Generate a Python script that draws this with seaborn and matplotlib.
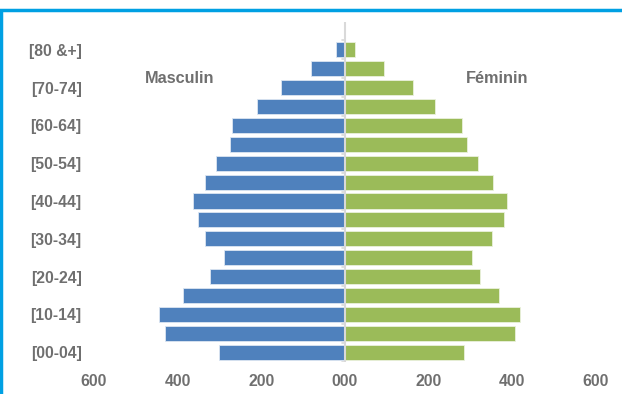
import pandas as pd
import matplotlib.pyplot as plt
import seaborn as sns
from matplotlib.patches import Rectangle

# Age groups, from oldest (top) to youngest (bottom)
ages = ['[80 &+]', '[75-79]', '[70-74]', '[65-69]', '[60-64]', '[55-59]',
        '[50-54]', '[45-49]', '[40-44]', '[35-39]', '[30-34]', '[25-29]',
        '[20-24]', '[15-19]', '[10-14]', '[05-09]', '[00-04]']
masculin = [21, 81, 153, 210, 270, 274, 309, 335, 364, 352, 335, 290,
            323, 387, 445, 431, 302]
feminin = [24, 93, 163, 215, 280, 291, 317, 353, 388, 381, 352, 303,
           322, 369, 419, 407, 285]
xticks = [-600, -400, -200, 0, 200, 400, 600]

df = pd.DataFrame({'age': ages, 'Masculin': [-v for v in masculin], 'Féminin': feminin})

sns.set_style('white')
plt.rcParams['font.family'] = ['Liberation Sans', 'DejaVu Sans']
grey = '#6f6f6f'

fig = plt.figure(figsize=(6.22, 3.94), dpi=100)
ax = fig.add_axes([94 / 622, 32.5 / 394, 502 / 622, 340 / 394])

sns.barplot(data=df, x='Masculin', y='age', order=ages, orient='h', saturation=1,
            color='#4F81BD', width=0.8, edgecolor='#dce6f2', linewidth=0.6, ax=ax)
sns.barplot(data=df, x='Féminin', y='age', order=ages, orient='h', saturation=1,
            color='#9BBB59', width=0.8, edgecolor='#eaf1dd', linewidth=0.6, ax=ax)

ax.set_xlim(-600, 600)
ax.set_ylim(16.5, -1.5)
ax.set_xlabel('')
ax.set_ylabel('')
for s in ax.spines.values():
    s.set_visible(False)

# central axis with small ticks (Excel style)
ax.plot([0, 0], [16.5, -1.5], color='#d9d9d9', lw=1.5, zorder=3)
for b in range(-1, 17):
    ax.plot([-8, 0], [b + 0.5, b + 0.5], color='#d9d9d9', lw=1.2, zorder=3)

ax.set_xticks(xticks)
ax.set_xticklabels(['%03d' % abs(v) for v in xticks])
ax.set_yticks(range(0, len(ages), 2))
ax.set_yticklabels(ages[::2])
ax.tick_params(axis='both', length=0, colors=grey, labelsize=11.3)
ax.tick_params(axis='x', pad=9)
ax.tick_params(axis='y', pad=9)
for t in ax.get_xticklabels() + ax.get_yticklabels():
    t.set_fontweight('bold')

ax.text(-395, 1.53, 'Masculin', ha='center', va='center', color=grey,
        fontsize=11.7, fontweight='bold')
ax.text(363, 1.53, 'Féminin', ha='center', va='center', color=grey,
        fontsize=11.7, fontweight='bold')

# blue frame
fig.patches.append(Rectangle((1 / 622, -0.05), 1.2, 1.05 - 10 / 394, transform=fig.transFigure,
                             fill=False, edgecolor='#00A0E3', lw=2.5))

plt.savefig('out.png', dpi=100)
